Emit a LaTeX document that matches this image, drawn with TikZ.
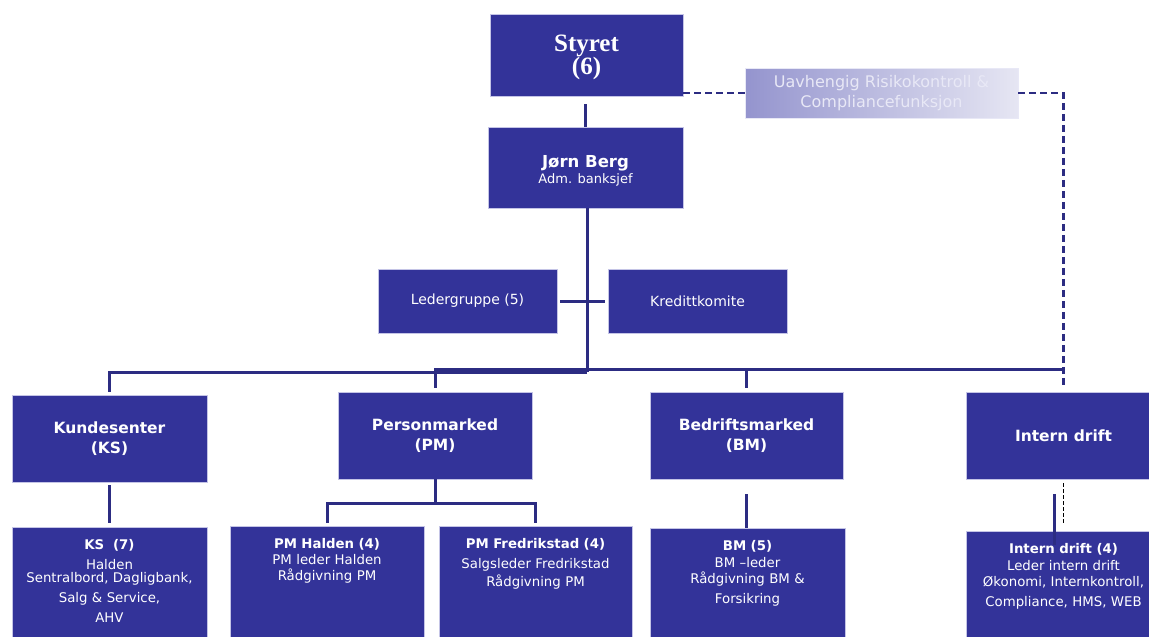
\documentclass[tikz,border=0pt]{standalone}
\usepackage{fontspec}
\setmainfont{DejaVu Sans}
\newfontfamily\boardfont{Liberation Serif}

\definecolor{orgblue}{RGB}{51,51,153}
\definecolor{orgline}{RGB}{44,44,130}
\definecolor{orgedge}{RGB}{196,196,230}
\definecolor{orgpale}{RGB}{232,232,246}

\tikzset{
  unit/.style={draw=orgedge, line width=0.8pt, fill=orgblue, text=white, align=center, inner sep=0pt},
  topunit/.style={unit, minimum width=195pt, minimum height=82pt},
  midunit/.style={unit, minimum width=195pt, minimum height=87pt, font=\bfseries\fontsize{15.5}{20}\selectfont},
  sideunit/.style={unit, minimum width=179pt, minimum height=64pt, font=\fontsize{14}{17}\selectfont},
  lowunit/.style={unit, anchor=north, text width=195pt, inner ysep=12pt, text depth=130pt, font=\fontsize{13.3}{16}\selectfont},
  conn/.style={draw=orgline, line width=3pt},
  ctrl/.style={draw=orgline, line width=2.4pt, dash pattern=on 7pt off 4pt},
}

\begin{document}
\begin{tikzpicture}[x=1pt,y=1pt,yscale=-1]
    \useasboundingbox (0,0) rectangle (1149,637);
    % top of the chart
    \node[topunit, minimum width=193pt, font=\boardfont\bfseries\fontsize{25}{23}\selectfont] (styret) at (586.5,55) {\rule{0pt}{21pt}Styret\\(6)\rule[-3pt]{0pt}{0pt}};
    \node[topunit, minimum height=81pt] (berg) at (585.5,167.5) {{\bfseries\fontsize{16.5}{18}\selectfont \rule{0pt}{19pt}Jørn Berg}\\[1pt]{\fontsize{13}{16}\selectfont Adm. banksjef}};
    \node[unit, shade, left color={rgb,255:red,148;green,148;blue,206}, right color={rgb,255:red,230;green,230;blue,243}, draw=orgpale, text=orgpale, minimum width=273pt, minimum height=50pt, font=\fontsize{16}{20}\selectfont] (risiko) at (881.5,93) {Uavhengig Risikokontroll \&\\Compliancefunksjon};
    % staff units
    \node[sideunit] (leder) at (467.5,301) {Ledergruppe (5)};
    \node[sideunit] (kreditt) at (697.5,301) {Kredittkomite};
    % divisions
    \node[midunit] (kunde) at (109.5,438.5) {Kundesenter\\(KS)};
    \node[midunit, minimum width=194pt] (person) at (435,435.5) {Personmarked\\(PM)};
    \node[midunit, minimum width=193pt] (bedrift) at (746.5,435.5) {Bedriftsmarked\\(BM)};
    \node[midunit] (intern) at (1063.5,435.5) {Intern drift};
    % departments
    \node[lowunit] (ksdept) at (109.5,527) {\textbf{KS\ \ (7)}\\[4pt]Halden\\[-3pt]Sentralbord, Dagligbank,\\[4pt]Salg \& Service,\\[4pt]AHV};
    \node[lowunit, text width=194pt] (pmhalden) at (327,526) {\textbf{PM Halden (4)}\\PM leder Halden\\Rådgivning PM};
    \node[lowunit, text width=193pt] (pmfred) at (535.5,526) {\textbf{PM Fredrikstad (4)}\\[4pt]Salgsleder Fredrikstad\\[2pt]Rådgivning PM};
    \node[lowunit] (bmdept) at (747.5,528) {\textbf{BM (5)}\\[1pt]BM –leder\\Rådgivning BM \&\\[4pt]Forsikring};
    \node[lowunit] (interndept) at (1063.5,531) {\textbf{Intern drift (4)}\\[1pt]Leder intern drift\\Økonomi, Internkontroll,\\[4pt]Compliance, HMS, WEB};

    % lines
    \coordinate (hubL) at (587,372);
    \coordinate (hubR) at (1063.5,369);
    \coordinate (pmfork) at (435,503);
    \coordinate (idtick) at (1054,545);
    \draw[conn, shorten <=8pt] (styret.south -| berg.north) -- (berg.north);
    \draw[conn] (berg.south -| hubL) -- (hubL);
    \draw[conn, shorten <=3pt, shorten >=3pt] (leder.east) -- (kreditt.west);
    \draw[conn, shorten <=3pt] (kunde.north) |- (hubL);
    \draw[conn, shorten <=4pt] (person.north) |- (hubR);
    \draw[conn, shorten <=4pt] (bedrift.north) -- (bedrift.north |- hubR);
    \draw[ctrl] (styret.east |- risiko.west) -- (risiko.west);
    \draw[ctrl, shorten >=4pt] (risiko.east) -| (intern.north);
    \draw[conn, shorten <=3pt, shorten >=4pt] (kunde.south) -- (ksdept.north);
    \draw[conn] (person.south) -- (pmfork);
    \draw[conn, shorten <=3pt, shorten >=3pt] (pmhalden.north) |- (pmfork) -| (pmfred.north);
    \draw[conn, shorten <=15pt] (bedrift.south) -- (bedrift.south |- bmdept.north);
    \draw[conn, shorten <=15pt] (intern.south -| idtick) -- (idtick);
    \draw[black, line width=1pt, dash pattern=on 4pt off 2pt, shorten <=4pt, shorten >=6pt] (intern.south) -- (interndept.north);
\end{tikzpicture}
\end{document}
